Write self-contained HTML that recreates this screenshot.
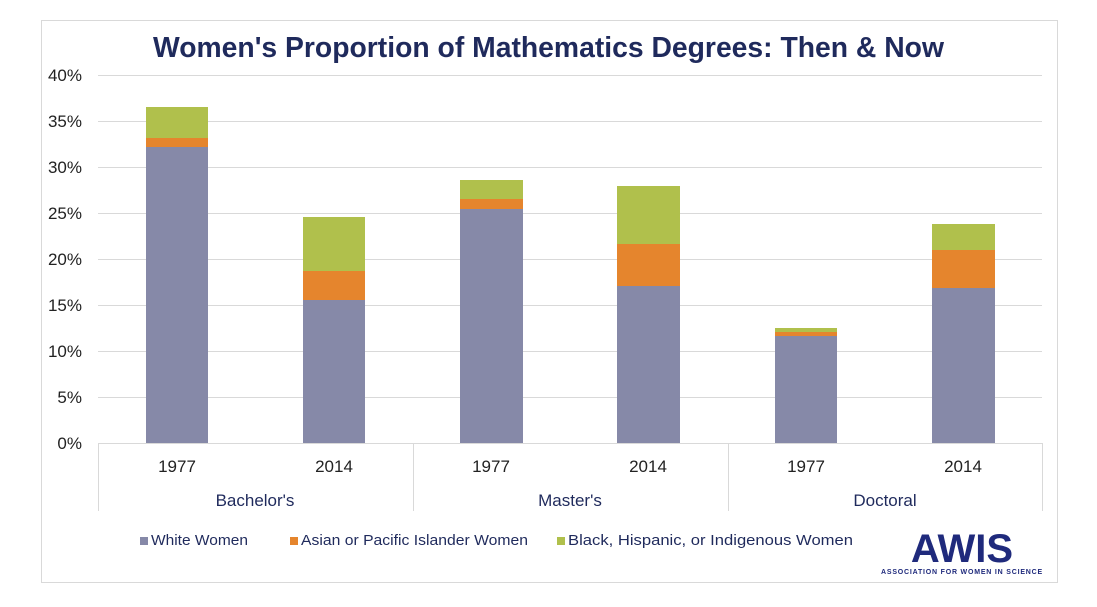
<!DOCTYPE html>
<html><head><style>body{margin:0;background:#fff}svg{display:block}text{font-family:"Liberation Sans",Arial,sans-serif}</style></head>
<body>
<svg width="1097" height="607" viewBox="0 0 1097 607">
<rect x="41.5" y="20.5" width="1016" height="562" fill="#fff" stroke="#d9d9d9"/>
<text x="153" y="57" font-size="28.3" font-weight="bold" fill="#1f2a5c" textLength="791" lengthAdjust="spacingAndGlyphs">Women's Proportion of Mathematics Degrees: Then &amp; Now</text>
<g stroke="#d9d9d9" stroke-width="1">
<line x1="98" x2="1042" y1="75.5" y2="75.5"/><line x1="98" x2="1042" y1="121.5" y2="121.5"/><line x1="98" x2="1042" y1="167.5" y2="167.5"/><line x1="98" x2="1042" y1="213.5" y2="213.5"/><line x1="98" x2="1042" y1="259.5" y2="259.5"/><line x1="98" x2="1042" y1="305.5" y2="305.5"/><line x1="98" x2="1042" y1="351.5" y2="351.5"/><line x1="98" x2="1042" y1="397.5" y2="397.5"/><line x1="98" x2="1042" y1="443.5" y2="443.5"/>
<line x1="98.5" x2="98.5" y1="443" y2="511"/><line x1="413.5" x2="413.5" y1="443" y2="511"/><line x1="728.5" x2="728.5" y1="443" y2="511"/><line x1="1042.5" x2="1042.5" y1="443" y2="511"/>
</g>
<g font-size="17" fill="#222" text-anchor="end">
<text x="82" y="81">40%</text><text x="82" y="127">35%</text><text x="82" y="173">30%</text><text x="82" y="219">25%</text><text x="82" y="265">20%</text><text x="82" y="311">15%</text><text x="82" y="357">10%</text><text x="82" y="403">5%</text><text x="82" y="449">0%</text>
</g>
<g>
<rect x="146" y="147" width="62" height="296" fill="#8689a8"/><rect x="146" y="138" width="62" height="9" fill="#e5852d"/><rect x="146" y="107" width="62" height="31" fill="#b0c04c"/>
<rect x="303" y="300" width="62" height="143" fill="#8689a8"/><rect x="303" y="271" width="62" height="29" fill="#e5852d"/><rect x="303" y="217" width="62" height="54" fill="#b0c04c"/>
<rect x="460" y="209" width="63" height="234" fill="#8689a8"/><rect x="460" y="199" width="63" height="10" fill="#e5852d"/><rect x="460" y="180" width="63" height="19" fill="#b0c04c"/>
<rect x="617" y="286" width="63" height="157" fill="#8689a8"/><rect x="617" y="244" width="63" height="42" fill="#e5852d"/><rect x="617" y="186" width="63" height="58" fill="#b0c04c"/>
<rect x="775" y="336" width="62" height="107" fill="#8689a8"/><rect x="775" y="332" width="62" height="4" fill="#e5852d"/><rect x="775" y="328" width="62" height="4" fill="#b0c04c"/>
<rect x="932" y="288" width="63" height="155" fill="#8689a8"/><rect x="932" y="250" width="63" height="38" fill="#e5852d"/><rect x="932" y="224" width="63" height="26" fill="#b0c04c"/>
</g>
<g font-size="17" fill="#222" text-anchor="middle">
<text x="177" y="472">1977</text><text x="334" y="472">2014</text><text x="491" y="472">1977</text><text x="648" y="472">2014</text><text x="806" y="472">1977</text><text x="963" y="472">2014</text>
<text x="255" y="506" fill="#1f2a5c">Bachelor's</text><text x="570" y="506" fill="#1f2a5c">Master's</text><text x="885" y="506" fill="#1f2a5c">Doctoral</text>
</g>
<g font-size="15" fill="#1f2a5c">
<rect x="140" y="537" width="8" height="8" fill="#8689a8"/><text x="151" y="545" textLength="97" lengthAdjust="spacingAndGlyphs">White Women</text>
<rect x="290" y="537" width="8" height="8" fill="#e5852d"/><text x="301" y="545" textLength="227" lengthAdjust="spacingAndGlyphs">Asian or Pacific Islander Women</text>
<rect x="557" y="537" width="8" height="8" fill="#b0c04c"/><text x="568" y="545" textLength="285" lengthAdjust="spacingAndGlyphs">Black, Hispanic, or Indigenous Women</text>
</g>
<text x="962" y="562" text-anchor="middle" font-size="40" font-weight="bold" fill="#1f2a7c">AWIS</text>
<text x="962" y="574" text-anchor="middle" font-size="7" font-weight="bold" fill="#1f2a7c" letter-spacing="0.8">ASSOCIATION FOR WOMEN IN SCIENCE</text>
</svg>
</body></html>
